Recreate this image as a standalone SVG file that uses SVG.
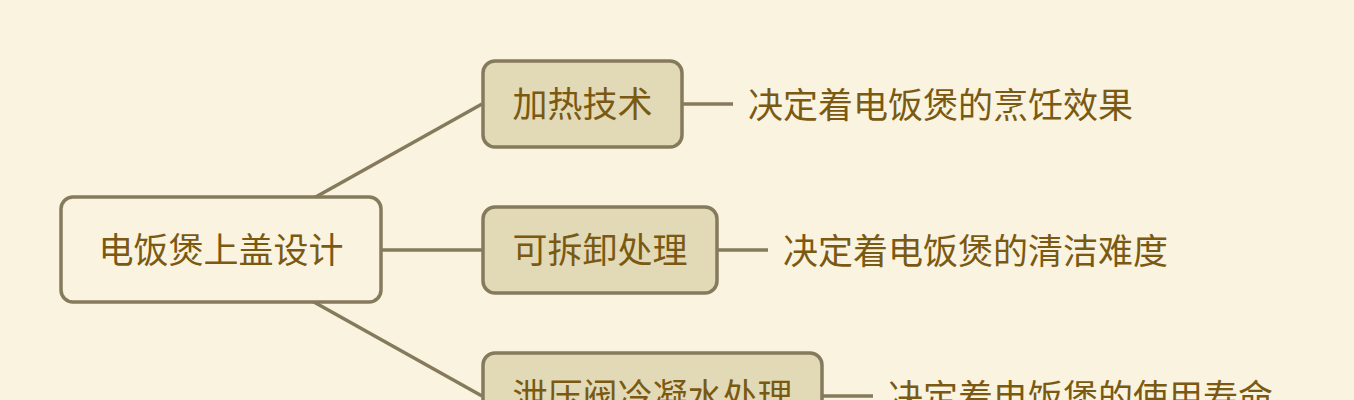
<svg xmlns="http://www.w3.org/2000/svg" width="1354" height="400" viewBox="0 0 1354 400">
<style>
.bg{fill:#FAF3E0}
.root{fill:#FAF3E0;stroke:#857B5C;stroke-width:3.5}
.sub{fill:#E2D9B7;stroke:#857B5C;stroke-width:3.5}
.conn{stroke:#857B5C;stroke-width:3.5;fill:none}
text{font-family:"Noto Sans CJK SC","Noto Sans",sans-serif;font-size:35px;fill:#7A5A12}
.c{text-anchor:middle}
</style>
<rect class="bg" x="0" y="0" width="1354" height="400"/>
<g id="connectors">
<line class="conn" x1="221" y1="250" x2="482" y2="104"/>
<line class="conn" x1="381" y1="250" x2="482" y2="250"/>
<line class="conn" x1="221" y1="250" x2="482" y2="396"/>
<line class="conn" x1="682" y1="104" x2="733" y2="104"/>
<line class="conn" x1="717" y1="250" x2="768" y2="250"/>
<line class="conn" x1="822" y1="396" x2="873" y2="396"/>
</g>
<g id="root">
<rect class="root" x="61" y="197" width="320" height="105" rx="12"/>
<text class="c" x="221" y="263">电饭煲上盖设计</text>
</g>
<g id="n1">
<rect class="sub" x="483" y="61" width="199" height="86" rx="12"/>
<text class="c" x="582.5" y="117">加热技术</text>
</g>
<g id="n2">
<rect class="sub" x="483" y="207" width="234" height="86" rx="12"/>
<text class="c" x="600" y="263">可拆卸处理</text>
</g>
<g id="n3">
<rect class="sub" x="483" y="353" width="339" height="86" rx="12"/>
<text class="c" x="652.5" y="409">泄压阀冷凝水处理</text>
</g>
<g id="l1"><text x="748" y="118">决定着电饭煲的烹饪效果</text></g>
<g id="l2"><text x="783" y="264">决定着电饭煲的清洁难度</text></g>
<g id="l3"><text x="888" y="410">决定着电饭煲的使用寿命</text></g>
</svg>
